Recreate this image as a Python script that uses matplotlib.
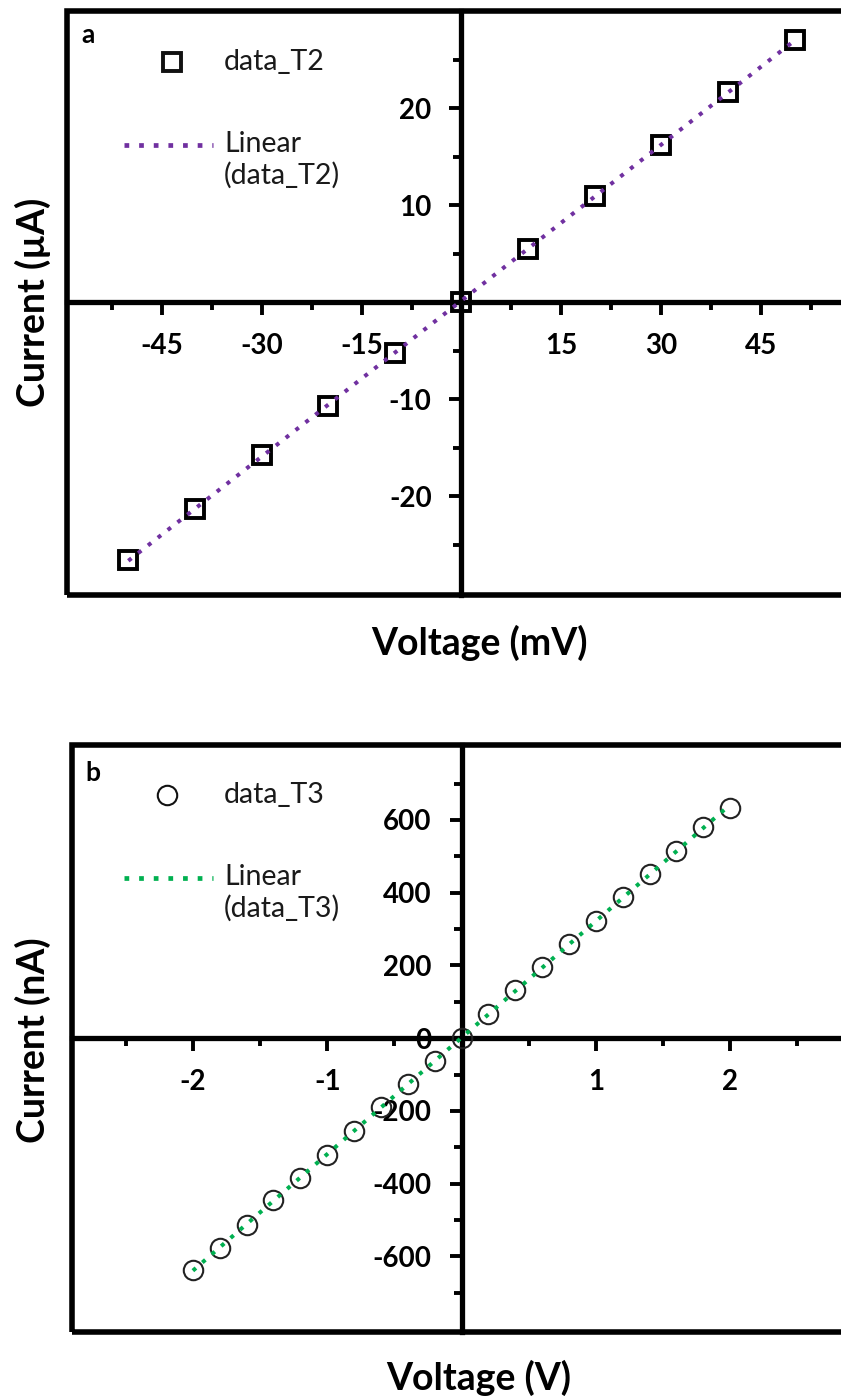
# I-V curves for the two test structures (T2 in mV/uA, T3 in V/nA)
import numpy as np
import matplotlib.pyplot as plt
from matplotlib.lines import Line2D
from matplotlib.patches import Rectangle
from matplotlib.ticker import FixedLocator, FuncFormatter

plt.rcParams["font.family"] = ["Lato", "DejaVu Sans"]

# ---------- Data ----------
volt_t2 = [-50, -40, -30, -20, -10, 0, 10, 20, 30, 40, 50]          # mV
curr_t2 = [-26.6, -21.3, -15.8, -10.7, -5.3, 0, 5.5, 10.9, 16.2, 21.7, 27.0]  # uA

volt_t3 = [-2.0, -1.8, -1.6, -1.4, -1.2, -1.0, -0.8, -0.6, -0.4, -0.2, 0.0,
           0.2, 0.4, 0.6, 0.8, 1.0, 1.2, 1.4, 1.6, 1.8, 2.0]        # V
curr_t3 = [-637, -577, -514, -446, -384, -321, -256, -189, -125, -64, 0,
           65, 131, 195, 259, 321, 388, 452, 514, 581, 633]         # nA

xmajor_t2 = [-45, -30, -15, 15, 30, 45]
xminor_t2 = [-52.5, -37.5, -22.5, -7.5, 7.5, 22.5, 37.5, 52.5]
ymajor_t2 = [-20, -10, 10, 20]
yminor_t2 = [-25, -15, -5, 5, 15, 25]

xmajor_t3 = [-2, -1, 1, 2]
xminor_t3 = [-2.5, -1.5, -0.5, 0.5, 1.5, 2.5]
ymajor_t3 = [-600, -400, -200, 0, 200, 400, 600]
yminor_t3 = [-700, -500, -300, -100, 100, 300, 500, 700]

PURPLE = "#7030A0"
GREEN = "#00B050"
W, H = 841, 1400
DOTS = (0, (1.0, 2.1))   # Excel "round dot"

fig = plt.figure(figsize=(W / 100, H / 100), dpi=100)


def px_axes(left, top, right, bottom):
    return fig.add_axes([left / W, 1 - bottom / H, (right - left) / W, (bottom - top) / H])


def fx(x):
    return x / W


def fy(y):
    return 1 - y / H


def style_axes(ax, xmaj, xmin, ymaj, ymin):
    for s in ("top", "right"):
        ax.spines[s].set_visible(False)
    for s in ("left", "bottom"):
        ax.spines[s].set_position(("data", 0))
        ax.spines[s].set_linewidth(3.8)
        ax.spines[s].set_zorder(1)
    ax.add_patch(Rectangle((0, 0), 1, 1, transform=ax.transAxes, fill=False,
                           lw=4.0, edgecolor="black", clip_on=False, zorder=5))
    ax.xaxis.set_major_locator(FixedLocator(xmaj))
    ax.xaxis.set_minor_locator(FixedLocator(xmin))
    ax.yaxis.set_major_locator(FixedLocator(ymaj))
    ax.yaxis.set_minor_locator(FixedLocator(ymin))
    fmt = FuncFormatter(lambda v, p: f"{v:g}")
    ax.xaxis.set_major_formatter(fmt)
    ax.yaxis.set_major_formatter(fmt)
    ax.tick_params(which="major", direction="out", length=9, width=2.8, labelsize=20)
    ax.tick_params(which="minor", direction="out", length=6, width=2.8)
    ax.tick_params(axis="x", which="major", pad=13.5)
    ax.tick_params(axis="y", which="major", pad=12.5)
    for lab in ax.get_xticklabels() + ax.get_yticklabels():
        lab.set_fontweight("bold")


def legend_keys(y_mark, y_line, marker, ms, mew, mark_x, color, name):
    fig.add_artist(Line2D([fx(mark_x)], [fy(y_mark)], marker=marker, ms=ms, mew=mew,
                          mfc="none", mec="#111111", ls="none"))
    fig.text(fx(224), fy(y_mark), name, fontsize=20.5, va="center", ha="left", color="#1a1a1a")
    fig.add_artist(Line2D([fx(124), fx(213)], [fy(y_line), fy(y_line)], color=color, lw=3.4,
                          ls=DOTS))
    fig.text(fx(224), fy(y_line - 14), f"Linear\n({name})", fontsize=20.5, va="top",
             ha="left", color="#1a1a1a", linespacing=1.2)


# ---------- a) T2 ----------
ax1 = px_axes(67, 11, 856, 595)
ax1.set_xlim(-59.2, 59.2)
ax1.set_ylim(-30.2, 30.0)
ax1.plot(volt_t2, curr_t2, ls="none", marker="s", ms=13, mew=2.8, mfc="none",
         mec="black", zorder=2)
k1, b1 = np.polyfit(volt_t2, curr_t2, 1)
xx1 = np.array([min(volt_t2), max(volt_t2)])
ax1.plot(xx1, k1 * xx1 + b1, color=PURPLE, lw=2.9, ls=DOTS, zorder=3)
style_axes(ax1, xmajor_t2, xminor_t2, ymajor_t2, yminor_t2)

fig.text(fx(88), fy(35), "a", fontsize=19, fontweight="bold", ha="center", va="center")
legend_keys(62, 145, "s", 13, 2.8, 172, PURPLE, "data_T2")
fig.text(fx(33), fy(302), "Current (\u00b5A)", rotation=90, fontsize=27, fontweight="bold",
         ha="center", va="center")
fig.text(fx(479), fy(643), "Voltage (mV)", fontsize=27, fontweight="bold",
         ha="center", va="center")

# ---------- b) T3 ----------
ax2 = px_axes(72, 745, 851, 1332)
ax2.set_xlim(-2.9, 2.9)
ax2.set_ylim(-808, 806)
ax2.plot(volt_t3, curr_t3, ls="none", marker="o", ms=14, mew=1.5, mfc="none",
         mec="#222222", zorder=2)
k2, b2 = np.polyfit(volt_t3, curr_t3, 1)
xx2 = np.array([min(volt_t3), max(volt_t3)])
ax2.plot(xx2, k2 * xx2 + b2, color=GREEN, lw=2.9, ls=DOTS, zorder=3)
style_axes(ax2, xmajor_t3, xminor_t3, ymajor_t3, yminor_t3)

fig.text(fx(93), fy(773), "b", fontsize=19, fontweight="bold", ha="center", va="center")
legend_keys(795, 878, "o", 14, 1.5, 167, GREEN, "data_T3")
fig.text(fx(33), fy(1040), "Current (nA)", rotation=90, fontsize=27, fontweight="bold",
         ha="center", va="center")
fig.text(fx(479), fy(1378), "Voltage (V)", fontsize=27, fontweight="bold",
         ha="center", va="center")

fig.savefig("out.png", dpi=100)
